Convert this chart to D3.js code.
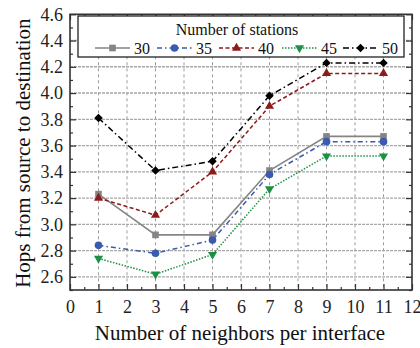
<!DOCTYPE html>
<html>
<head>
<meta charset="utf-8">
<script src="https://cdn.jsdelivr.net/npm/d3@7/dist/d3.min.js"></script>
<style>
  html, body { margin: 0; padding: 0; background: #fff; }
  svg { display: block; font-family: "Liberation Serif", "Times New Roman", serif; }
</style>
</head>
<body>
<svg id="chart" width="420" height="348"></svg>
<script>
// Neighbors per interface (x) and average hop counts per station count
const neighbors = [1, 3, 5, 7, 9, 11];
const stationCounts = ["30", "35", "40", "45", "50"];
const hops30 = [3.23, 2.92, 2.92, 3.41, 3.67, 3.67];
const hops35 = [2.84, 2.78, 2.88, 3.38, 3.63, 3.63];
const hops40 = [3.20, 3.07, 3.40, 3.90, 4.15, 4.15];
const hops45 = [2.74, 2.62, 2.77, 3.27, 3.52, 3.52];
const hops50 = [3.81, 3.41, 3.48, 3.98, 4.23, 4.23];
const xTicks = [0, 1, 2, 3, 4, 5, 6, 7, 8, 9, 10, 11, 12];
const yTicks = [2.6, 2.8, 3.0, 3.2, 3.4, 3.6, 3.8, 4.0, 4.2, 4.4, 4.6];

const seriesValues = [hops30, hops35, hops40, hops45, hops50];

// Visual style for each series
const styles = [
  { color: "#858585", dash: null,            width: 1.6, symbol: d3.symbolSquare,   size: 44, rotate: 0 },
  { color: "#3a5bb0", dash: "5,3,1.5,3",     width: 1.5, symbol: d3.symbolCircle,   size: 46, rotate: 0 },
  { color: "#8e1b1b", dash: "4,2.5",         width: 1.5, symbol: d3.symbolTriangle, size: 36, rotate: 0 },
  { color: "#1e8f45", dash: "1.5,1.5",       width: 1.5, symbol: d3.symbolTriangle, size: 36, rotate: 180 },
  { color: "#000000", dash: "6,3,1.5,3",     width: 1.5, symbol: d3.symbolSquare,   size: 36, rotate: 45 }
];

const svg = d3.select("#chart");
const plotLeft = 70, plotRight = 412, plotTop = 14.3, plotBottom = 290;

const x = d3.scaleLinear().domain([0, 12]).range([plotLeft, plotRight]);
const y = d3.scaleLinear().domain([2.5, 4.6]).range([plotBottom, plotTop]);

// Grid lines
const grid = svg.append("g");
grid.selectAll("line.vg")
  .data(d3.range(1, 12))
  .enter().append("line")
  .attr("x1", d => x(d)).attr("x2", d => x(d))
  .attr("y1", plotTop).attr("y2", plotBottom)
  .attr("stroke", "#9a9a9a").attr("stroke-width", 1)
  .attr("stroke-dasharray", "3,3");
grid.selectAll("line.hg")
  .data(yTicks.filter(v => v < 4.6))
  .enter().append("line")
  .attr("x1", plotLeft).attr("x2", plotRight)
  .attr("y1", d => y(d)).attr("y2", d => y(d))
  .attr("stroke", "#a8a8a8").attr("stroke-width", 1.4)
  .attr("stroke-dasharray", "3,1");

// Axes with inward ticks on all four sides
const fontSize = 18;
function styleAxis(g) {
  g.select(".domain").remove();
  g.selectAll(".tick line").attr("stroke", "#333").attr("stroke-width", 1.2);
  g.selectAll("text").attr("font-size", fontSize).attr("fill", "#222")
    .attr("font-family", "'Liberation Serif', 'Times New Roman', serif");
}
const xMinor = d3.range(0.5, 12, 1);
const yMinor = d3.range(2.5, 4.61, 0.2).map(v => +v.toFixed(1));

svg.append("g").attr("transform", `translate(0,${plotBottom})`)
  .call(d3.axisBottom(x).tickValues(xTicks).tickSize(-6).tickPadding(10).tickFormat(d3.format("d")))
  .call(styleAxis);
svg.append("g").attr("transform", `translate(0,${plotBottom})`)
  .call(d3.axisBottom(x).tickValues(xMinor).tickSize(-3).tickFormat(""))
  .call(styleAxis);
svg.append("g").attr("transform", `translate(0,${plotTop})`)
  .call(d3.axisTop(x).tickValues(xTicks).tickSize(-6).tickFormat(""))
  .call(styleAxis);
svg.append("g").attr("transform", `translate(0,${plotTop})`)
  .call(d3.axisTop(x).tickValues(xMinor).tickSize(-3).tickFormat(""))
  .call(styleAxis);

svg.append("g").attr("transform", `translate(${plotLeft},0)`)
  .call(d3.axisLeft(y).tickValues(yTicks).tickSize(-6).tickPadding(7).tickFormat(d3.format(".1f")))
  .call(styleAxis);
svg.append("g").attr("transform", `translate(${plotLeft},0)`)
  .call(d3.axisLeft(y).tickValues(yMinor).tickSize(-3).tickFormat(""))
  .call(styleAxis);
svg.append("g").attr("transform", `translate(${plotRight},0)`)
  .call(d3.axisRight(y).tickValues(yTicks).tickSize(-6).tickFormat(""))
  .call(styleAxis);
svg.append("g").attr("transform", `translate(${plotRight},0)`)
  .call(d3.axisRight(y).tickValues(yMinor).tickSize(-3).tickFormat(""))
  .call(styleAxis);

// Plot frame
svg.append("rect")
  .attr("x", plotLeft).attr("y", plotTop)
  .attr("width", plotRight - plotLeft).attr("height", plotBottom - plotTop)
  .attr("fill", "none").attr("stroke", "#333").attr("stroke-width", 1.6);

// Series lines and markers
const line = d3.line().x(d => x(d[0])).y(d => y(d[1]));
seriesValues.forEach((vals, i) => {
  const st = styles[i];
  const pts = neighbors.map((n, j) => [n, vals[j]]);
  svg.append("path").datum(pts)
    .attr("d", line)
    .attr("fill", "none")
    .attr("stroke", st.color)
    .attr("stroke-width", st.width)
    .attr("stroke-dasharray", st.dash);
  svg.append("g").selectAll("path").data(pts).enter().append("path")
    .attr("d", d3.symbol().type(st.symbol).size(st.size))
    .attr("transform", d => `translate(${x(d[0])},${y(d[1])}) rotate(${st.rotate})`)
    .attr("fill", st.color);
});

// Legend
const legend = svg.append("g");
legend.append("rect")
  .attr("x", 78).attr("y", 16).attr("width", 326).attr("height", 41)
  .attr("fill", "#fff").attr("stroke", "#222").attr("stroke-width", 1.3);
legend.append("text")
  .attr("x", 237).attr("y", 34.5)
  .attr("text-anchor", "middle")
  .attr("font-size", 16).attr("fill", "#111")
  .text("Number of stations");
const itemX = [95, 157, 219, 282, 343];
stationCounts.forEach((name, i) => {
  const st = styles[i];
  const lx = itemX[i], ly = 48;
  legend.append("line")
    .attr("x1", lx).attr("x2", lx + 35).attr("y1", ly).attr("y2", ly)
    .attr("stroke", st.color).attr("stroke-width", st.width)
    .attr("stroke-dasharray", st.dash);
  legend.append("path")
    .attr("d", d3.symbol().type(st.symbol).size(st.size))
    .attr("transform", `translate(${lx + 17.5},${ly}) rotate(${st.rotate})`)
    .attr("fill", st.color);
  legend.append("text")
    .attr("x", lx + 39).attr("y", ly + 5.5)
    .attr("font-size", 16).attr("fill", "#111")
    .text(name);
});

// Axis titles
svg.append("text")
  .attr("x", (plotLeft + plotRight) / 2 - 1).attr("y", 340)
  .attr("text-anchor", "middle")
  .attr("font-size", 21).attr("fill", "#111")
  .text("Number of neighbors per interface");
svg.append("text")
  .attr("transform", `translate(30,${(plotTop + plotBottom) / 2 + 1}) rotate(-90)`)
  .attr("text-anchor", "middle")
  .attr("font-size", 21).attr("fill", "#111")
  .text("Hops from source to destination");
</script>
</body>
</html>
